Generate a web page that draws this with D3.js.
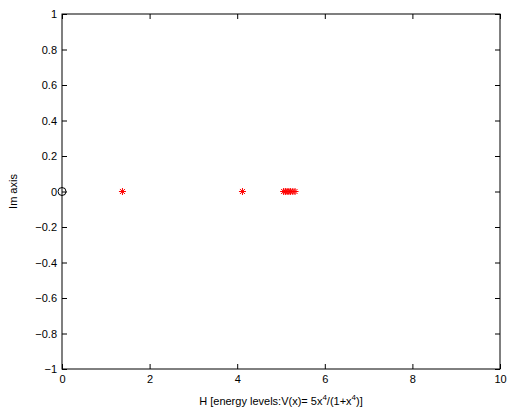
<!DOCTYPE html>
<meta charset="utf-8">
<style>
  body { margin: 0; background: #fff; }
  text { font-family: "Liberation Sans", Arial, sans-serif; font-size: 11px; fill: #000; }
</style>
<svg width="516" height="411"></svg>
<script src="https://cdn.jsdelivr.net/npm/d3@7"></script>
<script>
    // eigenvalues on the real axis (imaginary part 0)
    var energyRe = [1.38, 4.12, 5.06, 5.1, 5.14, 5.18, 5.22, 5.27, 5.32];
    var energyIm = [0, 0, 0, 0, 0, 0, 0, 0, 0];
    var originRe = [0];
    var originIm = [0];
    var xTicks = [0, 2, 4, 6, 8, 10];
    var yTicks = [-1, -0.8, -0.6, -0.4, -0.2, 0, 0.2, 0.4, 0.6, 0.8, 1];

    var svg = d3.select('svg');
    var margin = { left: 62, top: 14, right: 16, bottom: 42 };
    var width = +svg.attr('width') - margin.left - margin.right;
    var height = +svg.attr('height') - margin.top - margin.bottom;
    var g = svg.append('g')
        .attr('transform', `translate(${margin.left}, ${margin.top})`);

    var x = d3.scaleLinear().domain([0, 10]).range([0, width]);
    var y = d3.scaleLinear().domain([-1, 1]).range([height, 0]);

    var fmt = function (d) { return String(d).replace('-', '\u2212'); };
    var tick = 5;

    // axes, ticks inside, on all four sides
    g.append('g').attr('transform', `translate(0, ${height})`)
        .call(d3.axisBottom(x).tickValues(xTicks).tickSizeInner(-tick).tickSizeOuter(0).tickPadding(6).tickFormat(fmt));
    g.append('g')
        .call(d3.axisTop(x).tickValues(xTicks).tickSizeInner(-tick).tickSizeOuter(0).tickFormat(''));
    g.append('g')
        .call(d3.axisLeft(y).tickValues(yTicks).tickSizeInner(-tick).tickSizeOuter(0).tickPadding(5).tickFormat(fmt));
    g.append('g').attr('transform', `translate(${width}, 0)`)
        .call(d3.axisRight(y).tickValues(yTicks).tickSizeInner(-tick).tickSizeOuter(0).tickFormat(''));
    g.selectAll('.domain').remove();
    g.selectAll('.tick line').attr('stroke', '#000');
    g.selectAll('.tick text').style('font-size', '11px').attr('fill', '#000');
    g.append('rect')
        .attr('width', width).attr('height', height)
        .attr('fill', 'none').attr('stroke', '#000').attr('stroke-width', 1);

    // origin marker
    g.selectAll('.origin')
        .data(originRe)
        .enter()
        .append('circle')
        .attr('cx', function (d) { return x(d); })
        .attr('cy', function (d, i) { return y(originIm[i]); })
        .attr('r', 4)
        .attr('fill', 'none')
        .attr('stroke', '#000');

    // asterisks
    var s = 3.5;
    g.selectAll('.star')
        .data(energyRe)
        .enter()
        .append('path')
        .attr('d', function (d, i) {
            var cx = x(d), cy = y(energyIm[i]);
            var dd = s * 0.72;
            return `M${cx - s},${cy}L${cx + s},${cy}M${cx},${cy - s}L${cx},${cy + s}` +
                `M${cx - dd},${cy - dd}L${cx + dd},${cy + dd}M${cx - dd},${cy + dd}L${cx + dd},${cy - dd}`;
        })
        .attr('stroke', '#ff0000')
        .attr('fill', 'none');

    // labels
    svg.append('text')
        .attr('x', margin.left + width / 2)
        .attr('y', 405)
        .attr('text-anchor', 'middle')
        .html('H [energy levels:V(x)= 5x<tspan dy="-5" font-size="8">4</tspan><tspan dy="5">/(1+x</tspan><tspan dy="-5" font-size="8">4</tspan><tspan dy="5">)]</tspan>');
    svg.append('text')
        .attr('transform', `translate(17, ${margin.top + height / 2}) rotate(-90)`)
        .attr('text-anchor', 'middle')
        .text('Im axis');
</script>
